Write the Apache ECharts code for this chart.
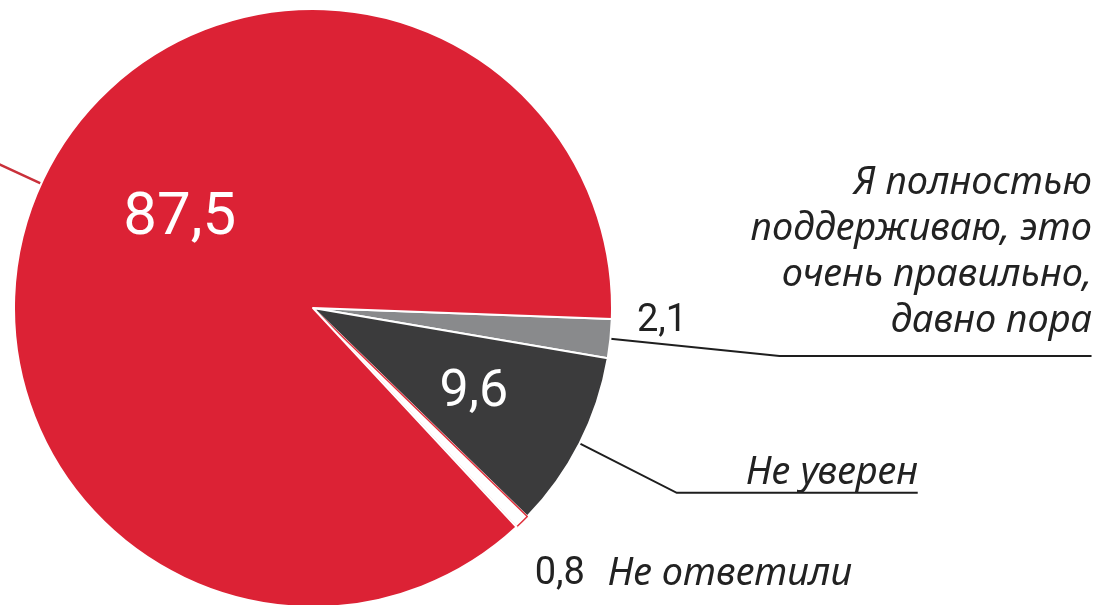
<!DOCTYPE html>
<html>
<head>
<meta charset="utf-8">
<script src="https://cdn.jsdelivr.net/npm/echarts@6/dist/echarts.min.js"></script>
<style>
  html, body { margin: 0; padding: 0; background: #fff; }
  #chart { width: 1107px; height: 605px; }
</style>
</head>
<body>
<div id="chart"></div>
<script>
// data, clockwise from just below 3 o'clock
const names = ['Я полностью поддерживаю, это очень правильно, давно пора', 'Не уверен', 'Не ответили', 'Остальные']
const values = [2.1, 9.6, 0.8, 87.5]
const colors = ['#898a8c', '#3b3b3c', '#ffffff', '#dc2235']

const SANS = "'Noto Sans', sans-serif"
const NUM = "Roboto, sans-serif"
const fmt = (v) => v.toFixed(1).replace('.', ',')

const center = [313, 308]
const radius = 299
const startAngle = -2.1

const chart = echarts.init(document.getElementById('chart'))

// slices + the two values printed inside
const pieData = values.map((v, i) => {
  const item = { value: v, name: names[i], itemStyle: { color: colors[i] } }
  if (i === 2) item.itemStyle = { color: '#fff', borderColor: '#e0303c', borderWidth: 1.5 }
  if (i === 3) {
    item.label = {
      show: true, position: 'inside', formatter: '{v|' + fmt(v) + '}', padding: [0, 0, 51, 11],
      rich: { v: { fontFamily: NUM, fontSize: 60, color: '#fff' } },
    }
  }
  if (i === 1) {
    item.label = {
      show: true, position: 'inside', formatter: '{v|' + fmt(v) + '}', padding: [32, 0, 0, 50],
      rich: { v: { fontFamily: NUM, fontSize: 52, color: '#fff' } },
    }
  }
  return item
})

// outer captions with leader lines (same geometry, invisible sectors)
const lineDark = { color: '#1e1e1e', width: 2 }
const outerData = values.map((v, i) => {
  const item = { value: v, name: names[i] }
  if (i === 0) {
    item.label = {
      alignTo: 'edge', edgeDistance: 15, padding: [0, 0, 207, 0],
      formatter: '{t|Я полностью}\n{t|поддерживаю, это}\n{t|очень правильно,}\n{n|' + fmt(v) + '}{u|давно пора}',
    }
    item.labelLine = { length: 170, length2: 312, lineStyle: lineDark }
  } else if (i === 1) {
    item.label = {
      alignTo: 'edge', edgeDistance: 189, padding: [0, 0, 40, 0],
      formatter: '{i|' + names[i] + '}',
    }
    item.labelLine = { length: 109, length2: 241, lineStyle: lineDark }
  } else if (i === 2) {
    item.label = {
      alignTo: 'edge', edgeDistance: 255,
      formatter: '{m|' + fmt(v) + '}{i|' + names[i] + '}',
    }
    item.labelLine = { show: false, length: 73, length2: 10 }
  } else {
    item.label = { formatter: () => '' }
    item.labelLine = { length: 60, length2: 40, lineStyle: { color: '#c9303a', width: 2.5 } }
  }
  return item
})

const italic = { fontFamily: SANS, fontStyle: 'italic', fontSize: 38, lineHeight: 46, color: '#222' }
const num = { fontFamily: NUM, fontSize: 38, lineHeight: 46, color: '#222', align: 'left' }

chart.setOption({
  animation: false,
  backgroundColor: '#fff',
  series: [
    {
      type: 'pie',
      center, radius, startAngle,
      clockwise: true,
      silent: true,
      avoidLabelOverlap: false,
      itemStyle: { borderColor: '#fff', borderWidth: 2 },
      label: { show: false },
      labelLine: { show: false },
      data: pieData,
    },
    {
      type: 'pie',
      center, radius, startAngle,
      clockwise: true,
      silent: true,
      avoidLabelOverlap: false,
      itemStyle: { color: 'rgba(0,0,0,0)', borderWidth: 0 },
      label: {
        show: true, position: 'outside', distanceToLabelLine: 0,
        color: '#222',
        rich: {
          t: Object.assign({}, italic, { width: 455, align: 'right' }),
          u: Object.assign({}, italic, { width: 395, align: 'right' }),
          i: italic,
          n: Object.assign({}, num, { width: 60 }),
          m: Object.assign({}, num, { width: 73 }),
        },
      },
      labelLine: { show: true, smooth: false },
      data: outerData,
    },
  ],
})
</script>
</body>
</html>
